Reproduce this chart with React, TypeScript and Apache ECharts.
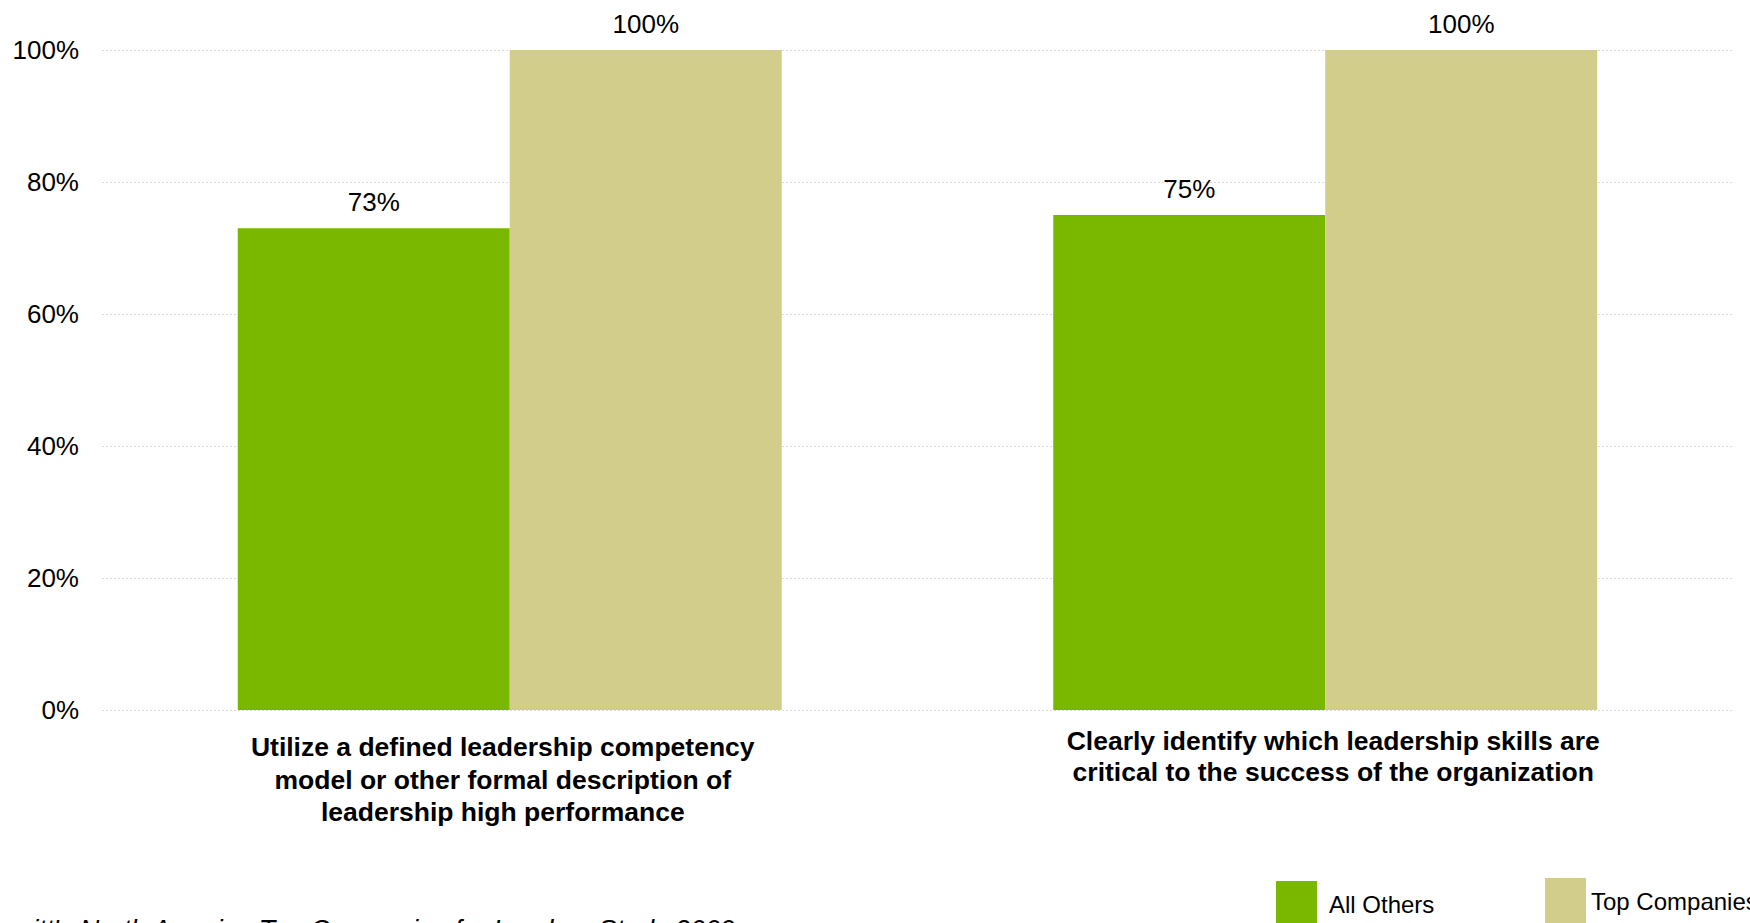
import React, { useEffect, useRef } from "react";
import * as echarts from "echarts";

const categories = [
  "Utilize a defined leadership competency\nmodel or other formal description of\nleadership high performance",
  "Clearly identify which leadership skills are\ncritical to the success of the organization",
];
const seriesNames = ["All Others", "Top Companies"];
const allOthers = [73, 75];
const topCompanies = [100, 100];
const yTicks = [0, 20, 40, 60, 80, 100];
const sourceText = "Source: Hewitt's North America Top Companies for Leaders Study 2009";

const FONT = "'Liberation Sans', Arial, Helvetica, sans-serif";
const GREEN = "#7AB800";
const TAN = "#D3CD8B";

export default function App() {
  const ref = useRef<HTMLDivElement>(null);
  useEffect(() => {
    if (!ref.current) return;
    const chart = echarts.init(ref.current, undefined, { renderer: "svg" });
    const labelStyle = {
      show: true,
      position: "top",
      distance: 13,
      fontSize: 26,
      color: "#000",
      fontFamily: FONT,
      formatter: (p: any) => `${p.value}%`,
    };
    const catLabel = (
      idxShown: number,
      margin: number,
      lineHeight: number,
      padding: number[]
    ) => ({
      interval: 0,
      margin,
      fontSize: 26.5,
      fontWeight: "bold",
      lineHeight,
      padding,
      color: "#000",
      fontFamily: FONT,
      formatter: (v: string, i: number) => (i === idxShown ? v : ""),
    });
    chart.setOption({
      animation: false,
      backgroundColor: "#fff",
      grid: { left: 102, right: 17, top: 50, bottom: 213 },
      xAxis: [
        {
          type: "category",
          data: categories,
          position: "bottom",
          axisLine: { show: false },
          axisTick: { show: false },
          axisLabel: catLabel(0, 21, 32.5, [0, 14, 0, 0]),
        },
        {
          type: "category",
          data: categories,
          position: "bottom",
          axisLine: { show: false },
          axisTick: { show: false },
          axisLabel: catLabel(1, 15, 31.2, [0, 0, 0, 16]),
        },
      ],
      yAxis: {
        type: "value",
        min: yTicks[0],
        max: yTicks[yTicks.length - 1],
        interval: 20,
        axisLine: { show: false },
        axisTick: { show: false },
        axisLabel: {
          margin: 23,
          fontSize: 26,
          color: "#000",
          fontFamily: FONT,
          formatter: (v: number) => `${v}%`,
        },
        splitLine: { lineStyle: { color: "#dadada", width: 1, type: [2, 2] } },
      },
      legend: [
        {
          data: [seriesNames[0]],
          left: 1271,
          top: 876,
          itemWidth: 41,
          itemHeight: 47,
          icon: "rect",
          textStyle: { fontSize: 24, color: "#000", fontFamily: FONT, padding: [0, 0, 0, 7] },
        },
        {
          data: [seriesNames[1]],
          left: 1540,
          top: 873,
          itemWidth: 41,
          itemHeight: 47,
          icon: "rect",
          textStyle: { fontSize: 24, color: "#000", fontFamily: FONT },
        },
      ],
      graphic: [
        {
          type: "text",
          x: 735,
          y: 930,
          style: {
            text: sourceText,
            fontSize: 27,
            fontStyle: "italic",
            fontFamily: FONT,
            fill: "#000",
            textAlign: "right",
            textVerticalAlign: "middle",
          },
        },
      ],
      series: [
        {
          name: seriesNames[0],
          type: "bar",
          xAxisIndex: 0,
          data: allOthers,
          barWidth: 272,
          barGap: "0%",
          itemStyle: { color: GREEN },
          label: labelStyle,
        },
        {
          name: seriesNames[1],
          type: "bar",
          xAxisIndex: 0,
          data: topCompanies,
          barWidth: 272,
          barGap: "0%",
          itemStyle: { color: TAN },
          label: labelStyle,
        },
      ],
    });
    return () => chart.dispose();
  }, []);
  return (
    <div
      ref={ref}
      style={{ position: "absolute", left: 0, top: 0, width: 1750, height: 923 }}
    />
  );
}
